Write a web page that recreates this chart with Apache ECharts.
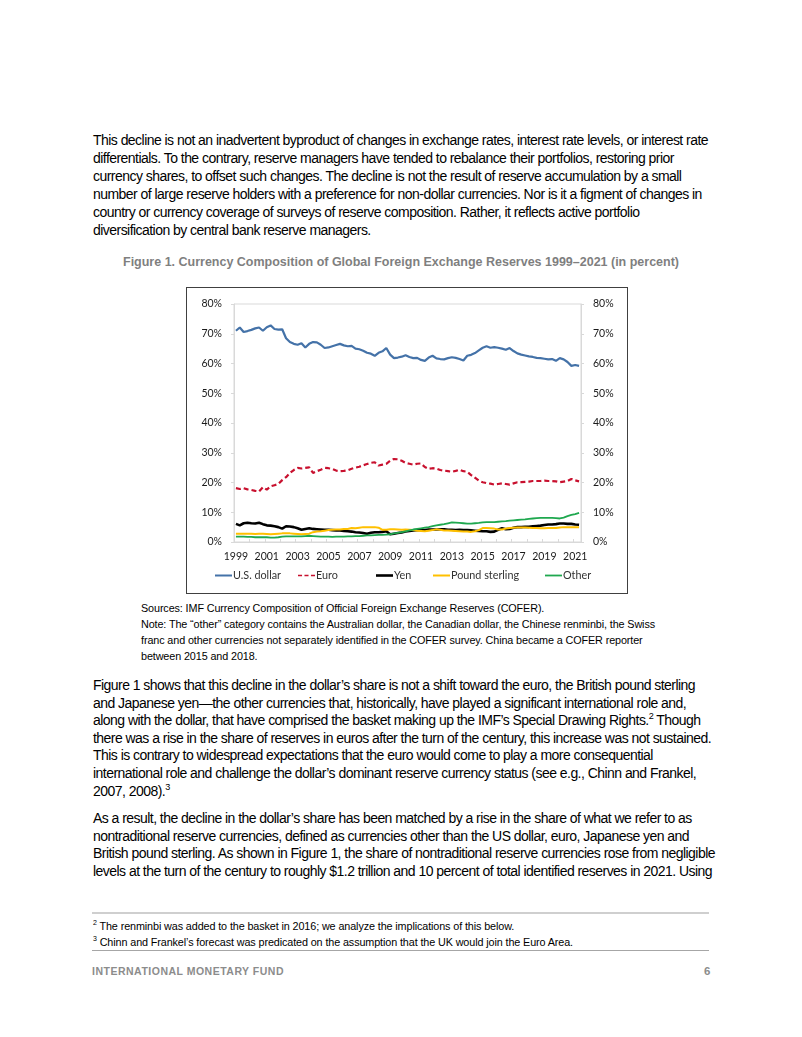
<!DOCTYPE html>
<html><head><meta charset="utf-8">
<script src="https://cdn.jsdelivr.net/npm/echarts/dist/echarts.min.js"></script>
<style>
html,body{margin:0;padding:0;background:#fff;}
body{width:802px;height:1037px;position:relative;overflow:hidden;font-family:"Liberation Sans",Arial,sans-serif;color:#000;}
.ln{position:absolute;left:93px;white-space:nowrap;line-height:18px;font-size:14px;height:18px;}
.title{position:absolute;left:0;width:802px;text-align:center;white-space:nowrap;font-weight:bold;color:#7f7f7f;font-size:12.5px;line-height:16px;}
.src{position:absolute;left:141px;white-space:nowrap;font-size:10.8px;line-height:16px;}
.fn{position:absolute;left:93px;white-space:nowrap;font-size:10.8px;line-height:16px;}
sup{font-size:65%;line-height:0;vertical-align:super;}
.rule{position:absolute;left:92px;width:617px;}
#chart{position:absolute;left:186px;top:287px;width:442px;height:307px;}
#frame{position:absolute;left:186px;top:287px;width:442px;height:307px;box-sizing:border-box;border:1.6px solid #404040;pointer-events:none;}
.foot{position:absolute;top:964px;font-weight:bold;color:#8c8c8c;font-size:10.5px;line-height:14px;white-space:nowrap;}
</style></head>
<body>
<div class="ln p" id="ref1" style="top:131px">This decline is not an inadvertent byproduct of changes in exchange rates, interest rate levels, or interest rate</div>
<div class="ln p" style="top:149px">differentials. To the contrary, reserve managers have tended to rebalance their portfolios, restoring prior</div>
<div class="ln p" style="top:167px">currency shares, to offset such changes. The decline is not the result of reserve accumulation by a small</div>
<div class="ln p" style="top:185px">number of large reserve holders with a preference for non-dollar currencies. Nor is it a figment of changes in</div>
<div class="ln p" style="top:203px">country or currency coverage of surveys of reserve composition. Rather, it reflects active portfolio</div>
<div class="ln p" style="top:221px">diversification by central bank reserve managers.</div>

<div class="title" id="ttl" style="top:254px">Figure 1. Currency Composition of Global Foreign Exchange Reserves 1999–2021 (in percent)</div>

<div id="chart"></div>
<div id="frame"></div>

<div class="src s" style="top:600px">Sources: IMF Currency Composition of Official Foreign Exchange Reserves (COFER).</div>
<div class="src s" id="ref2" style="top:616px">Note: The “other” category contains the Australian dollar, the Canadian dollar, the Chinese renminbi, the Swiss</div>
<div class="src s" style="top:632px">franc and other currencies not separately identified in the COFER survey. China became a COFER reporter</div>
<div class="src s" style="top:648px">between 2015 and 2018.</div>

<div class="ln p" style="top:676px">Figure 1 shows that this decline in the dollar’s share is not a shift toward the euro, the British pound sterling</div>
<div class="ln p" style="top:693.6px">and Japanese yen—the other currencies that, historically, have played a significant international role and,</div>
<div class="ln p" style="top:711.2px">along with the dollar, that have comprised the basket making up the IMF’s Special Drawing Rights.<sup>2</sup> Though</div>
<div class="ln p" style="top:728.8px">there was a rise in the share of reserves in euros after the turn of the century, this increase was not sustained.</div>
<div class="ln p" style="top:746.4px">This is contrary to widespread expectations that the euro would come to play a more consequential</div>
<div class="ln p" style="top:764px">international role and challenge the dollar’s dominant reserve currency status (see e.g., Chinn and Frankel,</div>
<div class="ln p" style="top:781.6px">2007, 2008).<sup>3</sup></div>

<div class="ln p" style="top:809px">As a result, the decline in the dollar’s share has been matched by a rise in the share of what we refer to as</div>
<div class="ln p" style="top:826.6px">nontraditional reserve currencies, defined as currencies other than the US dollar, euro, Japanese yen and</div>
<div class="ln p" style="top:844.2px">British pound sterling. As shown in Figure 1, the share of nontraditional reserve currencies rose from negligible</div>
<div class="ln p" style="top:861.8px">levels at the turn of the century to roughly $1.2 trillion and 10 percent of total identified reserves in 2021. Using</div>

<div class="rule" style="top:912px;height:2px;background:#cfcfcf"></div>
<div class="fn f" style="top:918px"><sup>2</sup> The renminbi was added to the basket in 2016; we analyze the implications of this below.</div>
<div class="fn f" id="ref3" style="top:934px"><sup>3</sup> Chinn and Frankel’s forecast was predicated on the assumption that the UK would join the Euro Area.</div>
<div class="rule" style="top:950px;height:1px;background:#a6a6a6"></div>

<div class="foot" id="imf" style="left:92px">INTERNATIONAL MONETARY FUND</div>
<div class="foot" style="left:704px;font-size:11.5px">6</div>

<script>
// ---------- data ----------
const years = [1999,2000,2001,2002,2003,2004,2005,2006,2007,2008,2009,2010,2011,2012,2013,2014,2015,2016,2017,2018,2019,2020,2021];
const quartersPerYear = ['Q1','Q2','Q3','Q4'];
const lastQuarterCount = 90; // 1999Q1 .. 2021Q2
const seriesNames = ['U.S. dollar','Euro','Yen','Pound sterling','Other'];
const usDollar = [71.0,72.1,70.6,70.9,71.3,71.8,72.1,71.0,72.2,72.8,
 71.6,71.4,71.5,68.5,67.2,66.6,66.3,66.8,65.4,66.6,
 67.2,67.1,66.3,65.2,65.4,65.8,66.2,66.6,66.1,65.8,
 65.9,65.0,64.8,64.3,63.6,63.3,62.6,63.6,64.1,65.2,
 63.0,61.8,62.0,62.3,62.8,62.2,61.8,61.9,61.2,60.9,
 62.0,62.6,61.7,61.5,61.4,61.8,62.1,61.9,61.5,61.0,
 62.6,62.9,63.5,64.4,65.3,65.8,65.3,65.5,65.3,65.0,
 64.6,65.2,64.2,63.4,63.0,62.7,62.4,62.2,61.9,61.8,
 61.6,61.4,61.5,60.9,61.8,61.4,60.5,59.2,59.5,59.2];
const euro = [18.1,17.8,18.1,17.7,17.5,17.2,17.0,18.4,17.6,18.7,
 19.1,19.5,20.8,21.8,23.2,24.2,24.9,24.7,24.9,25.1,
 23.2,23.8,24.3,24.9,24.8,24.6,24.0,23.8,23.9,24.1,
 24.6,25.0,25.3,25.8,26.2,26.6,26.8,25.7,26.0,26.3,
 27.3,27.9,27.8,27.3,26.6,26.3,26.0,26.3,26.4,25.2,
 24.6,24.8,24.7,24.2,24.0,23.8,23.6,23.9,24.3,23.8,
 23.6,22.5,21.6,20.6,20.1,19.8,19.6,19.3,19.5,19.7,
 19.5,19.3,19.7,20.1,20.1,20.2,20.3,20.5,20.5,20.5,
 20.6,20.5,20.5,20.4,20.1,20.3,20.5,21.2,20.7,20.4];
const yen = [6.1,5.6,6.3,6.5,6.3,6.2,6.5,6.0,5.6,5.5,
 5.3,5.0,4.5,5.3,5.2,5.0,4.6,4.1,4.4,4.6,
 4.4,4.3,4.2,4.1,4.1,4.0,3.9,3.9,3.7,3.6,
 3.5,3.3,3.2,3.0,2.8,3.1,3.3,3.3,3.4,3.6,
 2.6,2.8,3.0,3.2,3.5,3.7,3.9,4.0,4.1,4.0,
 4.2,4.2,4.2,4.3,4.3,4.1,4.1,4.0,4.1,4.0,
 4.0,3.9,3.8,3.7,3.6,3.6,3.4,3.5,4.1,4.6,
 4.3,4.4,4.8,5.0,5.0,5.1,5.1,5.3,5.4,5.5,
 5.7,5.9,5.9,6.0,6.2,6.2,6.1,6.1,5.9,5.8];
const poundSterling = [2.8,2.8,2.8,2.8,2.8,2.7,2.8,2.8,2.7,2.6,
 2.7,2.8,2.9,2.9,2.9,2.8,2.7,2.6,2.7,2.8,
 3.3,3.5,3.6,3.8,4.0,4.1,4.2,4.2,4.4,4.4,
 4.7,4.6,4.8,5.0,5.0,5.0,5.0,4.8,4.1,4.1,
 4.3,4.3,4.2,4.1,4.2,4.1,4.0,3.8,3.7,3.6,
 3.8,4.0,4.3,4.1,3.9,3.9,3.8,3.7,3.6,3.5,
 3.5,3.4,3.6,4.0,4.7,4.7,4.6,4.5,4.2,4.2,
 4.5,4.7,4.8,4.9,4.9,4.9,4.8,4.7,4.7,4.6,
 4.6,4.7,4.7,4.7,4.9,5.0,5.0,5.0,5.0,5.0];
const other = [1.8,1.8,1.8,1.7,1.7,1.6,1.6,1.6,1.6,1.5,
 1.5,1.6,1.8,1.9,1.9,1.9,1.9,1.9,2.0,2.1,
 2.0,1.9,1.8,1.8,1.8,1.7,1.8,1.8,1.8,1.9,
 1.9,2.0,2.0,2.1,2.2,2.2,2.3,2.4,2.4,2.5,
 2.6,2.9,3.1,3.3,3.6,3.9,4.2,4.4,4.6,4.8,
 5.0,5.3,5.6,5.8,6.0,6.3,6.6,6.5,6.4,6.3,
 6.2,6.2,6.3,6.4,6.6,6.7,6.7,6.7,6.8,6.9,
 7.0,7.2,7.3,7.4,7.5,7.6,7.8,7.9,8.0,8.1,
 8.1,8.1,8.1,8.0,7.9,8.2,8.7,9.1,9.4,9.8];

// ---------- text fitting (matches the condensed PDF setting) ----------
function fit(cls, refId, target){
  const ref = document.getElementById(refId);
  const w = ref.getBoundingClientRect().width;
  const n = ref.textContent.length;
  const ls = (target - w) / n;
  document.querySelectorAll('.' + cls).forEach(e => e.style.letterSpacing = ls + 'px');
}
fit('p','ref1',615);
fit('s','ref2',514);
fit('f','ref3',480);
(function(){
  const t=document.getElementById('ttl'); const s=document.createElement('span'); s.textContent=t.textContent; t.textContent=''; t.appendChild(s);
  const w=s.getBoundingClientRect().width; t.style.letterSpacing=((556-w)/s.textContent.length)+'px';
  const m=document.getElementById('imf'); const w2=m.getBoundingClientRect().width; m.style.letterSpacing=((192-w2)/m.textContent.length)+'px';
})();

// ---------- chart ----------
const categories = [];
years.forEach(y => quartersPerYear.forEach(q => { if (categories.length < lastQuarterCount) categories.push(y + q); }));

const chart = echarts.init(document.getElementById('chart'), null, {renderer:'canvas'});
const font = 'Lato';
const colors = ['#4472a8','#c8102e','#000000','#ffc000','#1fa84f'];
const widths = [2.2,2.2,2.6,2,1.8];
const seriesData = [usDollar, euro, yen, poundSterling, other];
const legendLefts = [29,112,190,247,359];
const legendIcons = ['rect','path://M0 0H5V2H0Z M8 0H13V2H8Z M16 0H21V2H16Z','rect','rect','rect'];
const legendHeights = [2,2.4,2.6,2,1.8];

const yAxisBase = {
  type:'value', min:0, max:80, interval:10,
  splitLine:{show:false},
  axisLine:{show:true, lineStyle:{color:'#d9d9d9', width:1}},
  axisTick:{show:true, length:3, lineStyle:{color:'#d9d9d9'}},
  axisLabel:{formatter:'{value}%', fontFamily:font, fontSize:10.5, color:'#1a1a1a', margin:12}
};

chart.setOption({
  animation:false,
  grid:{left:48, right:47, top:17, bottom:52, show:true, borderColor:'#d9d9d9', borderWidth:1, containLabel:false, outerBoundsMode:'none'},
  legend: seriesNames.map((n,i)=>({
    data:[{name:n, icon:legendIcons[i], itemStyle:{color:colors[i], borderWidth:0, opacity:1}}],
    left:legendLefts[i], top:283, padding:0,
    itemWidth:17, itemHeight:legendHeights[i],
    itemStyle:{color:colors[i], borderWidth:0},
    textStyle:{fontFamily:font, fontSize:10.8, color:'#333', padding:[0,0,0,-4]},
    selectedMode:false
  })),
  xAxis:{
    type:'category', data:categories, boundaryGap:true,
    axisLine:{show:true, lineStyle:{color:'#d9d9d9'}},
    axisTick:{show:true, inside:true, length:3, interval:(i)=>i%4===0, lineStyle:{color:'#d9d9d9'}},
    axisLabel:{interval:(i)=>i%8===0, formatter:(v)=>v.slice(0,4), fontFamily:font, fontSize:10.5, color:'#1a1a1a', margin:9, hideOverlap:false}
  },
  yAxis:[
    Object.assign({}, yAxisBase, {position:'left'}),
    Object.assign({}, yAxisBase, {position:'right'})
  ],
  series: seriesNames.map((n,i)=>({
    name:n, type:'line', data:seriesData[i], yAxisIndex:0, symbol:'none', smooth:false,
    lineStyle:{color:colors[i], width:widths[i], type: i===1 ? [5,3] : 'solid'},
    itemStyle:{color:colors[i]}
  }))
});
</script>
</body></html>
